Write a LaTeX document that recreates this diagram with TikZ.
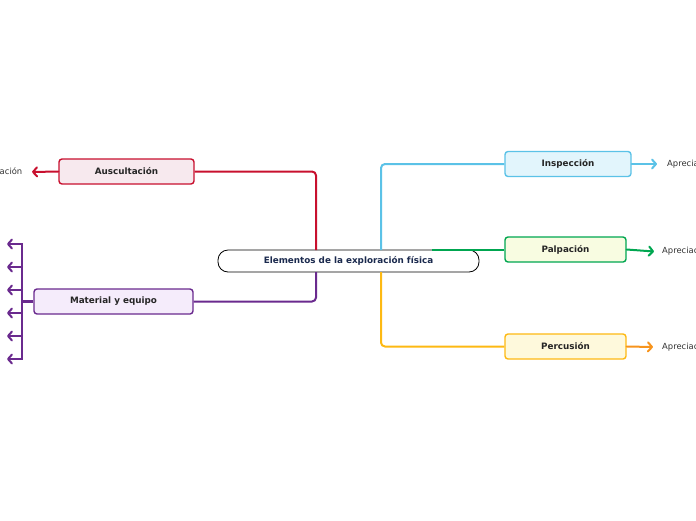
\documentclass[tikz,border=0pt]{standalone}
\usepackage{fontspec}
\setmainfont{DejaVu Sans}
\usetikzlibrary{arrows.meta}
\definecolor{cred}{HTML}{C8102E}
\definecolor{credf}{HTML}{F7E9EE}
\definecolor{cpur}{HTML}{6A2A8E}
\definecolor{cpurf}{HTML}{F5ECFB}
\definecolor{cblue}{HTML}{5BC2E7}
\definecolor{cbluef}{HTML}{E2F5FC}
\definecolor{cgreen}{HTML}{00A650}
\definecolor{cgreenf}{HTML}{F8FCE1}
\definecolor{camber}{HTML}{FDB913}
\definecolor{camberf}{HTML}{FEF9DC}
\definecolor{corange}{HTML}{F7941D}
\definecolor{cnavy}{HTML}{1B2A4E}
\begin{document}
\begin{tikzpicture}[x=1pt,y=-1pt,
  box/.style={draw, line width=1.4pt, rounded corners=3pt, inner sep=0pt,
    font=\fontsize{8.8}{10}\selectfont\bfseries, text=black!85},
  conn/.style={line width=2pt, rounded corners=4pt},
  arr/.style={line width=2pt, line cap=round, -{Straight Barb[length=4pt,width=9pt,round]}},
  lbl/.style={font=\fontsize{8.4}{10}\selectfont, text=black!80, inner sep=0pt}]
\useasboundingbox (0,0) rectangle (696,520);
\clip (0,0) rectangle (696,520);

% main nodes
\node[box, draw=cred, fill=credf, minimum width=135pt, minimum height=25pt] (aus) at (126.5,171.5) {Auscultación};
\node[box, draw=cpur, fill=cpurf, minimum width=159pt, minimum height=25pt] (mat) at (113.5,301.5) {Material y equipo};
\node[box, draw=cblue, fill=cbluef, minimum width=126pt, minimum height=25pt] (insp) at (568,164) {Inspección};
\node[box, draw=cgreen, fill=cgreenf, minimum width=121pt, minimum height=25pt] (palp) at (565.5,249.5) {Palpación};
\node[box, draw=camber, fill=camberf, minimum width=121pt, minimum height=25pt] (perc) at (565.5,346.5) {Percusión};

\node[draw=black, line width=0.8pt, fill=white, rounded corners=10pt, minimum width=261pt, minimum height=22pt,
  inner sep=0pt, font=\fontsize{8.8}{10}\selectfont\bfseries, text=cnavy] (center) at (348.5,261) {Elementos de la exploración física};

% coordinates
\coordinate (cRed) at (316,250);
\coordinate (cPur) at (316,272);
\coordinate (cBlue) at (381,250);
\coordinate (cAmb) at (381,272);
\coordinate (cGreen) at (432,249.5);

% connectors to center
\draw[conn, cred] (aus.east) -| (cRed);
\draw[conn, cpur] (mat.east) -| (cPur);
\draw[conn, cblue] (insp.west) -| (cBlue);
\draw[conn, camber] (perc.west) -| (cAmb);
\draw[conn, cgreen] (cGreen) -- (palp.west);

% right side children
\coordinate (tI) at (657,164);
\coordinate (tP) at (654,251.5);
\coordinate (tR) at (653,347);
\draw[arr, cblue] (insp.east) -- (tI);
\draw[arr, cgreen] (palp.east) -- (tP);
\draw[arr, corange] (perc.east) -- (tR);
\node[lbl, anchor=west] (aI) at (667,164.5) {Apreciación};
\node[lbl, anchor=west] (aP) at (662,251.5) {Apreciación};
\node[lbl, anchor=west] (aR) at (662,347.5) {Apreciación};

% left side child of Auscultación
\coordinate (tA) at (32,172);
\draw[arr, cred] (aus.west) -- (tA);
\node[lbl, anchor=east] (aA) at (22.5,172) {Apreciación};

% Material y equipo bracket
\coordinate (bar) at (22,301.5);
\coordinate (barTop) at (22,243);
\coordinate (barBot) at (22,360);
\draw[cpur, line width=2.6pt] (mat.west) -- (bar);
\draw[cpur, line width=2pt] (barTop) -- (barBot);
\foreach \i/\yy in {1/244,2/267,3/290,4/313,5/336,6/359}{
  \coordinate (b\i) at (22,\yy);
  \coordinate (m\i) at (7,\yy);
  \draw[arr, cpur] (b\i) -- (m\i);
}
\end{tikzpicture}
\end{document}
